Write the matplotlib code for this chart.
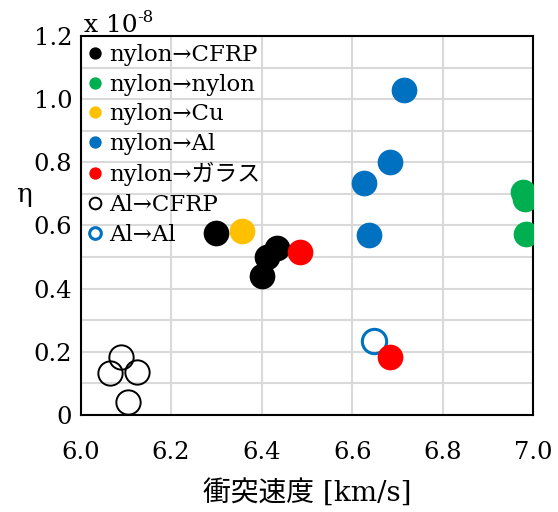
import matplotlib.pyplot as plt
from matplotlib.ticker import MultipleLocator, FixedLocator

plt.rcParams['font.family'] = ['DejaVu Serif', 'Noto Sans CJK JP']
plt.rcParams['mathtext.fontset'] = 'dejavuserif'

# nylon -> CFRP
cfrp_x = [6.300, 6.400, 6.412, 6.434]
cfrp_y = [0.577, 0.441, 0.501, 0.529]
# nylon -> nylon
nylon_x = [6.976, 6.982, 6.984]
nylon_y = [0.707, 0.685, 0.574]
# nylon -> Cu
cu_x = [6.357]
cu_y = [0.584]
# nylon -> Al
al_x = [6.714, 6.683, 6.626, 6.636]
al_y = [1.030, 0.802, 0.736, 0.570]
# nylon -> glass
glass_x = [6.484, 6.684]
glass_y = [0.515, 0.182]
# Al -> CFRP
alcfrp_x = [6.089, 6.064, 6.124, 6.105]
alcfrp_y = [0.185, 0.134, 0.137, 0.042]
# Al -> Al
alal_x = [6.649]
alal_y = [0.233]

fig = plt.figure(figsize=(5.58, 5.12), dpi=100)
ax = fig.add_axes([0.1443, 0.1895, 0.8117, 0.7402])

ms = 18.5
ax.plot(cfrp_x, cfrp_y, 'o', ms=ms, color='black', mec='none', label='nylon→CFRP', zorder=3)
ax.plot(nylon_x, nylon_y, 'o', ms=ms, color='#00B050', mec='none', label='nylon→nylon', zorder=3)
ax.plot(cu_x, cu_y, 'o', ms=ms, color='#FFC000', mec='none', label='nylon→Cu', zorder=3)
ax.plot(al_x, al_y, 'o', ms=ms, color='#0070C0', mec='none', label='nylon→Al', zorder=3)
ax.plot(glass_x, glass_y, 'o', ms=ms, color='#FF0000', mec='none', label='nylon→ガラス', zorder=3)
ax.plot(alcfrp_x, alcfrp_y, 'o', ms=ms - 1, mfc='none', mec='black', mew=1.4, label='Al→CFRP', zorder=2)
ax.plot(alal_x, alal_y, 'o', ms=ms - 1, mfc='none', mec='#0070C0', mew=2.2, label='Al→Al', zorder=2)

ax.set_xlim(6.0, 7.0)
ax.set_ylim(0, 1.2)
ax.yaxis.set_major_locator(FixedLocator([0, 0.2, 0.4, 0.6, 0.8, 1.0, 1.2]))
ax.yaxis.set_minor_locator(MultipleLocator(0.1))
ax.set_yticklabels(['0', '0.2', '0.4', '0.6', '0.8', '1.0', '1.2'])
ax.set_xticks([6.0, 6.2, 6.4, 6.6, 6.8, 7.0])
ax.set_xticklabels(['6.0', '6.2', '6.4', '6.6', '6.8', '7.0'])
ax.tick_params(axis='both', which='both', length=0, labelsize=17.5)
ax.tick_params(axis='x', pad=19)
ax.tick_params(axis='y', pad=6)
ax.grid(True, which='major', axis='x', color='#d9d9d9', lw=1.5)
ax.grid(True, which='both', axis='y', color='#d9d9d9', lw=1.5)
ax.set_axisbelow(True)
for s in ax.spines.values():
    s.set_linewidth(1.5)
    s.set_color('black')

ax.set_xlabel('衝突速度 [km/s]', fontsize=20, labelpad=10)
fig.text(0.043, 0.62, 'η', fontsize=19, ha='center', va='center')
fig.text(0.150, 0.938, 'x 10', fontsize=18, ha='left', va='baseline')
fig.text(0.246, 0.958, '-8', fontsize=12, ha='left', va='baseline')

leg = ax.legend(loc='upper left', fontsize=16.5, frameon=False, markerscale=0.48,
                handlelength=0.6, handletextpad=0.3, labelspacing=0.33,
                borderaxespad=0.1, borderpad=0.25)

fig.savefig('out.png', dpi=100)
